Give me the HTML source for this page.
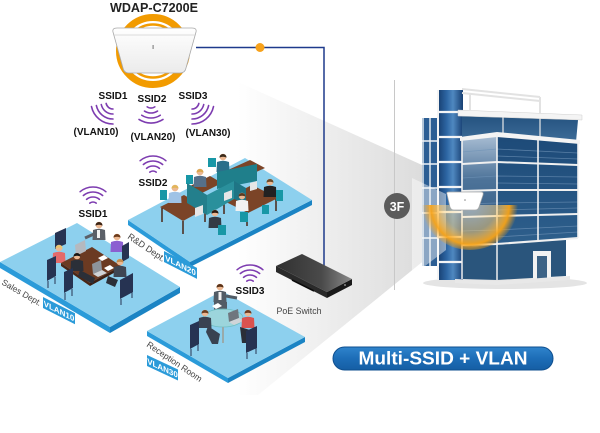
<!DOCTYPE html>
<html><head><meta charset="utf-8"><title>Multi-SSID + VLAN</title>
<style>
html,body{margin:0;padding:0;background:#fff}
body{width:600px;height:433px;overflow:hidden}
svg{display:block}
text{font-family:"Liberation Sans",Arial,sans-serif}
</style></head><body>
<svg width="600" height="433" viewBox="0 0 600 433" xmlns="http://www.w3.org/2000/svg">
<defs>
<linearGradient id="wedge" gradientUnits="userSpaceOnUse" x1="238" y1="0" x2="440" y2="0">
<stop offset="0" stop-color="#ffffff"/><stop offset=".5" stop-color="#ebebeb"/><stop offset="1" stop-color="#d9d9d9"/></linearGradient>
<linearGradient id="cyl" x1="0" y1="0" x2="1" y2="0">
<stop offset="0" stop-color="#173f70"/><stop offset=".35" stop-color="#2d66a4"/><stop offset=".6" stop-color="#4f88c0"/><stop offset="1" stop-color="#173f72"/></linearGradient>
<linearGradient id="lf" x1="0" y1="0" x2="0" y2="1">
<stop offset="0" stop-color="#a9bed4"/><stop offset=".4" stop-color="#4d7399"/><stop offset="1" stop-color="#2a537d"/></linearGradient>
<linearGradient id="rf" x1="0" y1="0" x2="0" y2="1">
<stop offset="0" stop-color="#1d4a78"/><stop offset="1" stop-color="#2e5f8c"/></linearGradient>
<linearGradient id="sb" x1="0" y1="0" x2="0" y2="1">
<stop offset="0" stop-color="#24527f"/><stop offset="1" stop-color="#3d6c98"/></linearGradient>
<radialGradient id="glow" gradientUnits="userSpaceOnUse" cx="470" cy="205" r="48">
<stop offset="0" stop-color="#ffffff" stop-opacity=".45"/><stop offset=".55" stop-color="#ffd27a" stop-opacity=".5"/><stop offset=".82" stop-color="#f7a318" stop-opacity=".95"/><stop offset="1" stop-color="#f7a318" stop-opacity="0"/></radialGradient>
<linearGradient id="pill" x1="0" y1="0" x2="0" y2="1">
<stop offset="0" stop-color="#2f84cc"/><stop offset=".5" stop-color="#1d6db7"/><stop offset="1" stop-color="#155ea4"/></linearGradient>
<linearGradient id="sw" x1="0" y1="0" x2="1" y2="0">
<stop offset="0" stop-color="#303030"/><stop offset=".6" stop-color="#4a4a4a"/><stop offset="1" stop-color="#8a8a8a"/></linearGradient>
<linearGradient id="ap" x1="0" y1="0" x2="0" y2="1">
<stop offset="0" stop-color="#ffffff"/><stop offset="1" stop-color="#ebebeb"/></linearGradient>
<g id="per"><path d="M-6,5 Q0,2.5 6,5 L6.5,15 L-6.5,15 Z"/><circle cx="0" cy="0" r="3.3" fill="#ecb892"/><path d="M-3.6,0.6 A3.6,3.6 0 0 1 3.6,0.6 Q0,-1.2 -3.6,0.6 Z" fill="currentColor"/></g>
</defs>

<!-- light wedge -->
<polygon points="238,82 442,174 442,246 258,395 238,395" fill="url(#wedge)"/>
<line x1="394.5" y1="80" x2="394.5" y2="290" stroke="#c8c8c8" stroke-width="1"/>

<!-- cable -->
<polyline points="196,47.5 324,47.5 324,266" fill="none" stroke="#1e3a8c" stroke-width="1.5"/>
<circle cx="260" cy="47.5" r="4.5" fill="#f7a21b"/>

<!-- AP top -->
<text x="154" y="12" font-size="12.5" font-weight="bold" text-anchor="middle" fill="#222" textLength="88" lengthAdjust="spacingAndGlyphs">WDAP-C7200E</text>
<circle cx="153" cy="51" r="33.5" fill="none" stroke="#f29b00" stroke-width="7"/>
<circle cx="153" cy="51" r="26.5" fill="none" stroke="#f29b00" stroke-width="2.5"/>
<path d="M113,32 Q112,28 117,28 L192,28 Q197,28 196,32 L186,68 Q185,73 180,73 L129,73 Q124,73 123,68 Z" fill="url(#ap)" stroke="#a9a9a9" stroke-width=".8"/>
<path d="M114,35 L195,35" stroke="#d0d0d0" stroke-width=".8"/>
<rect x="152.5" y="45" width="1.2" height="4" fill="#888"/>

<!-- top SSID labels -->
<g font-size="10" font-weight="bold" fill="#111" text-anchor="middle">
<text x="113" y="99">SSID1</text>
<text x="152" y="102">SSID2</text>
<text x="193" y="99">SSID3</text>
<text x="96" y="135">(VLAN10)</text>
<text x="153" y="140">(VLAN20)</text>
<text x="208" y="136">(VLAN30)</text>
</g>
<g fill="none" stroke="#7d3cb0" stroke-width="1.6" stroke-linecap="round">
<path d="M113,109 A7,7 0 0 1 106.15,103.46M113,114 A12,12 0 0 1 101.26,104.5M113,119 A17,17 0 0 1 96.37,105.54M113,124 A22,22 0 0 1 91.48,106.58"/>
<path d="M198.85,103.46 A7,7 0 0 1 192,109M203.74,104.5 A12,12 0 0 1 192,114M208.63,105.54 A17,17 0 0 1 192,119M213.52,106.58 A22,22 0 0 1 192,124"/>
<path d="M154.81,106.87 A7,7 0 0 1 147.19,106.87M157.54,111.07 A12,12 0 0 1 144.46,111.07M160.26,115.26 A17,17 0 0 1 141.74,115.26M162.99,119.46 A22,22 0 0 1 139.01,119.46"/>
<path d="M89.79,203.17 A5,5 0 0 1 96.21,203.17M86.57,199.34 A10,10 0 0 1 99.43,199.34M83.36,195.51 A15,15 0 0 1 102.64,195.51M80.14,191.68 A20,20 0 0 1 105.86,191.68"/>
<path d="M149.79,172.17 A5,5 0 0 1 156.21,172.17M146.57,168.34 A10,10 0 0 1 159.43,168.34M143.36,164.51 A15,15 0 0 1 162.64,164.51M140.14,160.68 A20,20 0 0 1 165.86,160.68"/>
<path d="M246.79,281.17 A5,5 0 0 1 253.21,281.17M243.57,277.34 A10,10 0 0 1 256.43,277.34M240.36,273.51 A15,15 0 0 1 259.64,273.51M237.14,269.68 A20,20 0 0 1 262.86,269.68"/>
</g>
<g font-size="10" font-weight="bold" fill="#111" text-anchor="middle">
<text x="93" y="217">SSID1</text>
<text x="153" y="186">SSID2</text>
<text x="250" y="294">SSID3</text>
</g>

<!-- R&D platform -->
<polygon points="128,220 190,262 190,267 128,225" fill="#2b9bd9"/>
<polygon points="190,262 312,200 312,205 190,267" fill="#1b84c4"/>
<polygon points="128,220 245,158 312,200 190,262" fill="#8dd0ee"/>
<g>
<polygon points="190,186 210,176 222,183 202,193" fill="#7b4427"/>
<polygon points="228,170 250,160 265,168 243,178" fill="#7b4427"/>
<use href="#per" transform="translate(223,157)" fill="#2b6f8a" color="#3a2a1a"/>
<use href="#per" transform="translate(200,172)" fill="#56708a" color="#d9a64e"/>
<rect x="208" y="158" width="8" height="9" fill="#1897a6"/>
<rect x="186" y="175" width="7" height="9" fill="#1897a6"/>
<polygon points="217,172 257,164 257,181 217,189" fill="#1f7f8b"/>
<polygon points="160,207 184,195 207,208 183,221" fill="#7b4427"/>
<polygon points="222,200 252,185 278,198 248,213" fill="#7b4427"/>
<path d="M162,208V222M183,221V234M205,209V222M224,201V214M247,213V226M276,199V211" stroke="#4a2616" stroke-width="1.5"/>
<use href="#per" transform="translate(175,188)" fill="#9fc3e6" color="#e2b65a"/>
<rect x="160" y="190" width="7" height="10" fill="#1897a6"/>
<use href="#per" transform="translate(270,182)" fill="#222" color="#6a4a2a"/>
<rect x="276" y="190" width="7" height="11" fill="#1897a6"/>
<polygon points="187,183 207,195 207,215 187,203" fill="#237f8c"/>
<polygon points="207,195 234,181 234,199 207,215" fill="#2a909c"/>
<polygon points="234,181 246,188 246,204 234,199" fill="#1f7585"/>
<polygon points="195,208 203,205 203,214 195,217" fill="#e6e6e6"/>
<polygon points="224,193 232,190 232,198 224,201" fill="#e6e6e6"/>
<polygon points="250,183 257,181 257,189 250,191" fill="#e6e6e6"/>
<use href="#per" transform="translate(242,196)" fill="#f2f2f2" color="#5a3a20"/>
<rect x="240" y="212" width="8" height="10" fill="#1897a6"/>
<use href="#per" transform="translate(215,213)" fill="#333b45" color="#2a1a10"/>
<rect x="218" y="225" width="8" height="10" fill="#1897a6"/>
<rect x="262" y="205" width="7" height="9" fill="#1897a6"/>
</g>
<text transform="translate(127,238) rotate(34)" font-size="9" fill="#444">R&amp;D Dept.</text>
<g transform="translate(164,251) skewY(27)">
<rect width="33" height="11" fill="#2b9bd9"/>
<text x="16.5" y="8.6" font-size="8" font-weight="bold" fill="#fff" text-anchor="middle">VLAN20</text>
</g>

<!-- Sales platform -->
<polygon points="0,262 110,327 110,333 0,268" fill="#2b9bd9"/>
<polygon points="110,327 180,287 180,293 110,333" fill="#1b84c4"/>
<polygon points="0,262 77,223 180,287 110,327" fill="#8dd0ee"/>
<g>
<polygon points="55,233 66,228 66,244 55,249" fill="#263352"/>
<use href="#per" transform="translate(99,225)" fill="#5b6068" color="#3b2314"/>
<path d="M94,234 L85,238" stroke="#5b6068" stroke-width="3"/>
<rect x="97" y="230" width="3" height="8" fill="#f2f2f2"/>
<use href="#per" transform="translate(117,237)" fill="#8b5fd1" color="#6d3b1c"/>
<polygon points="122,246 129,242 129,258 122,262" fill="#263352"/>
<use href="#per" transform="translate(59,248)" fill="#e46a6a" color="#e9c46f"/>
<polygon points="61,263 92,247 121,266 90,283" fill="#6b3a22"/>
<polygon points="61,263 90,283 90,286 61,266" fill="#4a2616"/>
<polygon points="90,283 121,266 121,269 90,286" fill="#3d1f12"/>
<polygon points="75,245 85,240 86,251 76,256" fill="#b5b9bf"/>
<polygon points="98,258 104,255 108,258 102,261" fill="#fff"/>
<polygon points="104,268 110,265 114,268 108,271" fill="#fff"/>
<polygon points="92,264 101,260 102,270 93,274" fill="#8d949c"/>
<polygon points="93,274 102,270 107,273 98,277" fill="#d0d4d8"/>
<use href="#per" transform="translate(77,256)" fill="#2b2f38" color="#151515"/>
<polygon points="80,270 95,278 93,284 78,276" fill="#2b2f38"/>
<polygon points="47,260 56,256 56,276 47,281" fill="#263352"/>
<path d="M48,281V288M55,277V284" stroke="#263352" stroke-width="1"/>
<polygon points="64,272 73,268 73,288 64,293" fill="#263352"/>
<path d="M65,293V300M72,289V296" stroke="#263352" stroke-width="1"/>
<use href="#per" transform="translate(120,262)" fill="#3e4653" color="#c28a4b"/>
<polygon points="108,276 118,280 115,287 106,283" fill="#2b2f38"/>
<polygon points="120,280 133,273 133,292 120,299" fill="#263352"/>
<path d="M121,299V305M132,292V298" stroke="#263352" stroke-width="1"/>
</g>
<text transform="translate(1,284) rotate(30)" font-size="8.6" fill="#444">Sales Dept.</text>
<g transform="translate(43,297) skewY(27)">
<rect width="32" height="11" fill="#2b9bd9"/>
<text x="16" y="8.6" font-size="8" font-weight="bold" fill="#fff" text-anchor="middle">VLAN10</text>
</g>

<!-- Reception platform -->
<polygon points="147,331 228,378 228,383 147,336" fill="#2b9bd9"/>
<polygon points="228,378 305,337 305,342 228,383" fill="#1b84c4"/>
<polygon points="147,331 222,291 305,337 228,378" fill="#8dd0ee"/>
<g>
<use href="#per" transform="translate(220,287)" fill="#525c66" color="#5a3218"/>
<path d="M226,296 L237,298" stroke="#525c66" stroke-width="3"/>
<rect x="218.5" y="292" width="3" height="8" fill="#f2f2f2"/>
<rect x="214" y="302" width="13" height="8" fill="#525c66"/>
<ellipse cx="223" cy="318" rx="20" ry="9" fill="#9fd6d8" fill-opacity=".85" stroke="#6fbfc4" stroke-width=".8"/>
<rect x="222" y="327" width="2" height="16" fill="#9aa"/>
<polygon points="228,313 238,309 239,318 229,322" fill="#6f767e"/>
<polygon points="229,322 239,318 244,321 234,325" fill="#d0d4d8"/>
<polygon points="212,306 218,303 222,306 216,309" fill="#fff"/>
<use href="#per" transform="translate(205,313)" fill="#394251" color="#6a3f20"/>
<polygon points="208,326 220,334 218,344 212,344 206,332" fill="#394251"/>
<polygon points="190,325 199,321 199,344 190,349" fill="#263352"/>
<path d="M191,349V356M198,344V351" stroke="#263352" stroke-width="1"/>
<use href="#per" transform="translate(248,313)" fill="#d9534f" color="#6b3a20"/>
<polygon points="240,327 250,330 248,343 242,343" fill="#2b2f38"/>
<polygon points="246,331 257,326 257,348 246,353" fill="#263352"/>
<path d="M247,353V359M256,348V354" stroke="#263352" stroke-width="1"/>
</g>
<text transform="translate(146,346) rotate(34)" font-size="8.7" fill="#444">Reception Room</text>
<g transform="translate(147,355) skewY(25)">
<rect width="31" height="11" fill="#2b9bd9"/>
<text x="15.5" y="8.6" font-size="8" font-weight="bold" fill="#fff" text-anchor="middle">VLAN30</text>
</g>

<!-- switch -->
<polygon points="276,266 327,292 327,298 276,272" fill="#2a2a2a"/>
<polygon points="327,292 352,279 352,285 327,298" fill="#1a1a1a"/>
<polygon points="276,266 302,254 352,279 327,292" fill="url(#sw)"/>
<path d="M292,280 L314,291" stroke="#0c0c0c" stroke-width="1.6"/>
<circle cx="345" cy="285" r="1" fill="#888"/>
<text x="299" y="314" font-size="8.8" fill="#444" text-anchor="middle">PoE Switch</text>

<!-- building -->
<ellipse cx="505" cy="283" rx="82" ry="6" fill="#e4e4e4"/>
<rect x="422" y="118" width="17" height="148" fill="#2c5e94"/>
<path d="M423,118V266M430,118V266M438,118V266M422,141H439M422,164H439M422,188H439M422,213H439M422,238H439" stroke="#eef2f6" stroke-width="1.4" fill="none"/>
<rect x="438" y="90" width="25" height="190" fill="url(#cyl)"/>
<path d="M438,112H463M438,137H463M438,162H463M438,187H463M438,212H463M438,237H463M438,262H463" stroke="#f2f4f6" stroke-width="2.2" fill="none"/>
<rect x="437" y="90" width="2" height="190" fill="#f4f4f4"/>
<path d="M462,89 L540,97 M462,93 L540,101 M540,97 V115 M470,94 V110" stroke="#e2e2e2" stroke-width="2" fill="none"/>
<polygon points="462,115 578,120 576,142 462,138" fill="url(#sb)"/>
<polygon points="458,110 582,115 582,120 458,116" fill="#f4f4f4" stroke="#cfcfcf" stroke-width=".5"/>
<path d="M503,117V138M540,118V140" stroke="#e8e8e8" stroke-width="1.2"/>
<polygon points="462,139 497,135 497,245 462,247" fill="url(#lf)"/>
<polygon points="497,135 578,142 578,238 497,245" fill="url(#rf)"/>
<path d="M497,149 L578,153 M497,176 L578,177 M497,203 L578,202 M497,230 L578,226 M497,156 L578,159 M497,183 L578,184 M497,210 L578,208 M497,237 L578,232 M462,152 L497,149 M462,178 L497,176 M462,204 L497,203 M462,231 L497,230" stroke="#6f93b6" stroke-width=".8" opacity=".7" fill="none"/>
<polygon points="460,137 497,132 580,140 580,144 497,137 460,141" fill="#f4f4f4"/>
<path d="M462,164 L497,162 L578,165 M462,191 L497,190 L578,190 M462,217 L497,216 L578,214 M462,245 L497,244 L578,238" stroke="#f0f0f0" stroke-width="2" fill="none"/>
<path d="M497,133V246M538,139V241M578,141V238M462,138V247" stroke="#f2f2f2" stroke-width="1.6" fill="none"/>
<polygon points="462,247 497,245 566,240 566,276 497,280 462,279" fill="#2a557c"/>
<path d="M497,245V280M462,247V279" stroke="#eee" stroke-width="1.5"/>
<rect x="533" y="251" width="18" height="28" fill="#f2f2f2"/>
<rect x="537" y="256" width="10" height="23" fill="#3d6386"/>
<polygon points="455,279 497,281 570,276 570,280 497,285 455,283" fill="#e8e8e8"/>
<polygon points="412,178 446,194 446,250 412,276" fill="#ffffff" fill-opacity=".45"/>
<path d="M422,205 A48,45 0 0 0 518,205 Z" fill="url(#glow)"/>
<path d="M447,194 Q446,192 449,192 L481,192 Q484,192 483,195 L479,207 Q478,210 475,210 L454,210 Q451,210 450,207 Z" fill="#fff" stroke="#a8a8a8" stroke-width=".7"/>
<circle cx="465" cy="200" r=".8" fill="#888"/>

<!-- 3F -->
<circle cx="397" cy="206" r="13" fill="#5b5b5b"/>
<text x="397" y="211" font-size="12.5" font-weight="bold" fill="#fff" text-anchor="middle">3F</text>

<!-- pill -->
<rect x="333" y="347" width="220" height="23" rx="11.5" fill="url(#pill)" stroke="#0f4f8f" stroke-width="1"/>
<text x="443" y="364.5" font-size="18.5" font-weight="bold" fill="#fff" text-anchor="middle" textLength="169" lengthAdjust="spacingAndGlyphs">Multi-SSID + VLAN</text>
</svg>
</body></html>
